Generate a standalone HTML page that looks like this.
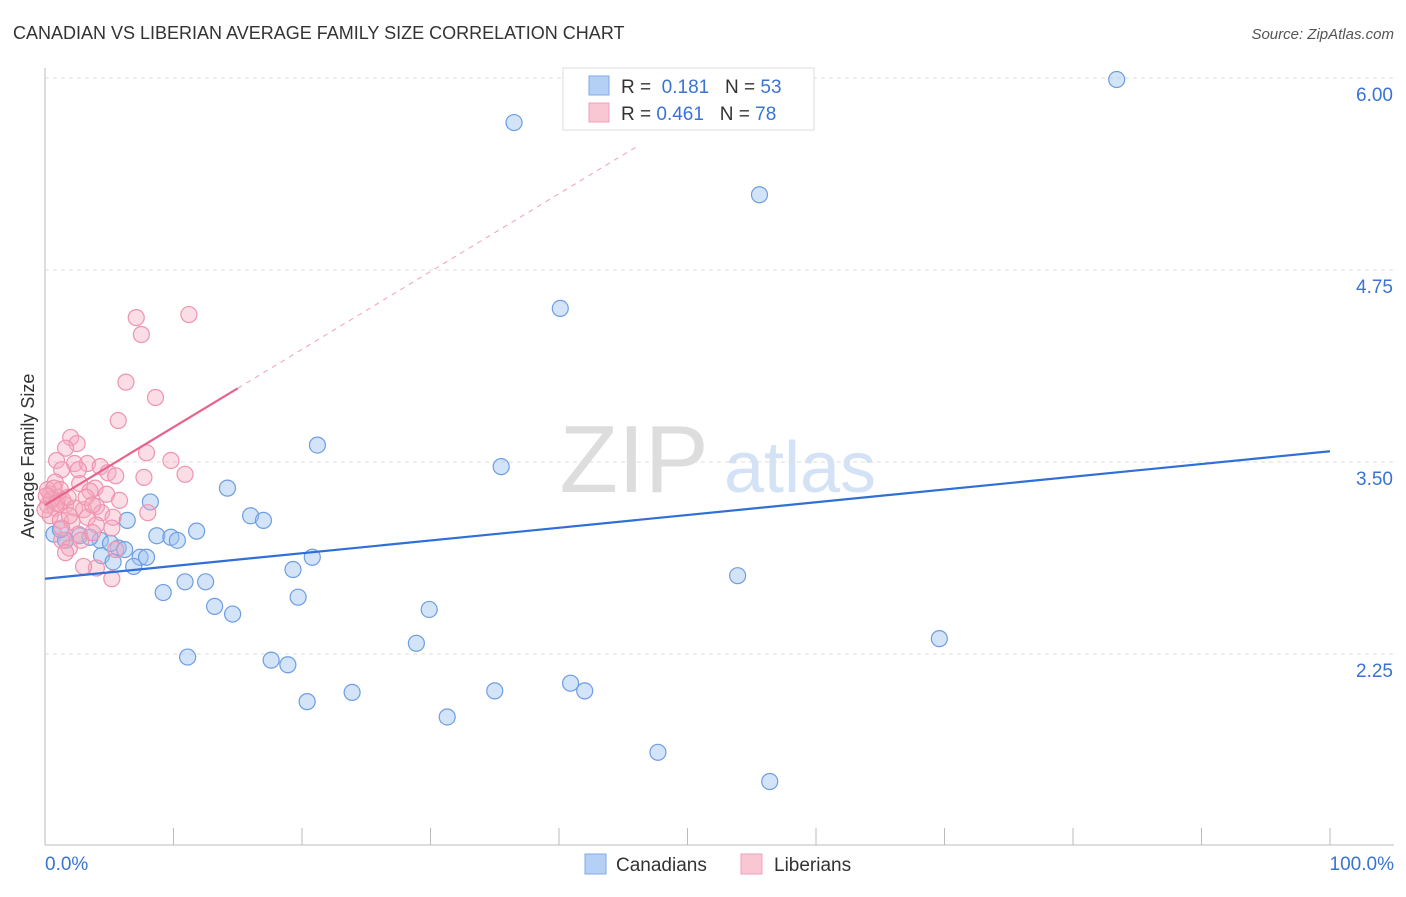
<!DOCTYPE html>
<html><head><meta charset="utf-8"><style>
body{margin:0;background:#fff;font-family:"Liberation Sans",sans-serif;}
svg text{font-family:"Liberation Sans",sans-serif;}
</style></head><body>
<svg id="c" width="1406" height="892">
<text x="13" y="39" font-size="18" fill="#333">CANADIAN VS LIBERIAN AVERAGE FAMILY SIZE CORRELATION CHART</text>
<text x="1394" y="39" font-size="15" fill="#555" font-style="italic" text-anchor="end">Source: ZipAtlas.com</text>
<text x="634" y="492" font-size="96" fill="#ddd" font-family="Liberation Serif" text-anchor="middle">ZIP</text>
<text x="800" y="492" font-size="72" fill="#d3e2f5" text-anchor="middle">atlas</text>
<text x="34" y="456" font-size="18" fill="#333" text-anchor="middle" transform="rotate(-90 34 456)">Average Family Size</text>
<g id="grid"></g><g id="axes"></g><g id="pts"></g><g id="lines"></g>
<g>
<rect x="563" y="68" width="251" height="62" fill="#fff" stroke="#ddd"/>
<rect x="589" y="76" width="20" height="19" fill="#b5d0f5" stroke="#7fa8e6"/>
<rect x="589" y="103" width="20" height="19" fill="#f9c6d4" stroke="#f0a0b8"/>
<text x="621" y="93" font-size="19" fill="#333">R = <tspan fill="#3a73d4">&#160;0.181</tspan>&#160;&#160;&#160;N = <tspan fill="#3a73d4">53</tspan></text>
<text x="621" y="120" font-size="19" fill="#333">R = <tspan fill="#3a73d4">0.461</tspan>&#160;&#160;&#160;N = <tspan fill="#3a73d4">78</tspan></text>
</g>
<g>
<rect x="585" y="854" width="21" height="20" fill="#b5d0f5" stroke="#7fa8e6"/>
<text x="616" y="871" font-size="19" fill="#333">Canadians</text>
<rect x="741" y="854" width="21" height="20" fill="#f9c6d4" stroke="#f0a0b8"/>
<text x="774" y="871" font-size="19" fill="#333">Liberians</text>
</g>
<text x="45" y="870" font-size="19" fill="#3a73d4">0.0%</text>
<text x="1394" y="870" font-size="19" fill="#3a73d4" text-anchor="end">100.0%</text>
</svg>
<script>
const yTicks=[2.25,3.5,4.75,6.0];
const yTickLabels=["2.25","3.50","4.75","6.00"];
const blueX=[83.4,36.5,55.6,40.1,21.2,35.5,14.2,8.2,16.0,17.0,6.4,11.8,8.7,9.8,10.3,0.7,2.7,1.6,4.3,5.7,4.4,7.4,7.9,5.3,20.8,6.9,19.3,10.9,12.5,53.9,9.2,19.7,13.2,14.6,29.9,28.9,69.6,11.1,17.6,18.9,23.9,35.0,40.9,42.0,20.4,31.3,47.7,56.4,1.6,3.5,5.1,6.2,1.2];
const blueY=[5.99,5.71,5.24,4.50,3.61,3.47,3.33,3.24,3.15,3.12,3.12,3.05,3.02,3.01,2.99,3.03,3.02,2.99,2.99,2.94,2.89,2.88,2.88,2.85,2.88,2.82,2.80,2.72,2.72,2.76,2.65,2.62,2.56,2.51,2.54,2.32,2.35,2.23,2.21,2.18,2.00,2.01,2.06,2.01,1.94,1.84,1.61,1.42,2.99,3.01,2.97,2.93,3.06];
const pinkX=[7.1,11.2,7.5,6.3,8.6,5.7,7.9,9.8,10.9,7.7,8.0,5.2,4.0,2.0,2.5,1.6,0.9,2.3,3.3,4.3,4.9,5.5,1.3,0.8,2.7,3.9,3.5,1.2,0.4,0.5,1.0,1.4,0.2,0.8,1.6,2.3,3.0,4.0,4.4,5.3,0.4,1.2,2.1,3.3,4.0,5.2,2.6,1.3,1.9,1.6,2.8,5.5,3.0,0.5,0.2,0.7,0.1,0.9,0,1.8,3.2,3.7,4.8,5.8,2.6,1.9,1.3,3.7];
const pinkY=[4.44,4.46,4.33,4.02,3.92,3.77,3.56,3.51,3.42,3.40,3.17,2.74,2.81,3.66,3.62,3.59,3.51,3.49,3.49,3.47,3.43,3.41,3.45,3.37,3.36,3.33,3.31,3.32,3.29,3.25,3.27,3.25,3.22,3.20,3.22,3.20,3.19,3.21,3.17,3.14,3.15,3.12,3.11,3.14,3.09,3.07,3.03,2.99,2.94,2.91,2.99,2.93,2.82,3.26,3.32,3.33,3.28,3.23,3.19,3.27,3.27,3.22,3.29,3.25,3.45,3.15,3.07,3.04];
const blueTrend=[2.74,3.57];
const pinkTrend=[3.22,3.98];
const NS="http://www.w3.org/2000/svg";
const X=v=>45+v*12.85, Y=v=>462-(v-3.5)*153.6;
function mk(t,a,p){const e=document.createElementNS(NS,t);for(const k in a)e.setAttribute(k,a[k]);document.getElementById(p).appendChild(e);return e;}
yTicks.forEach((t,i)=>{
 const g=mk('line',{x1:45,x2:1394,y1:Y(t),y2:Y(t),stroke:'#ddd','stroke-dasharray':'4,4'},'grid');
 
 
 const l=mk('text',{x:1393,y:Y(t)+23,'font-size':19,fill:'#3a73d4','text-anchor':'end'},'grid');l.textContent=yTickLabels[i];
 
 
});
mk('line',{x1:45,x2:45,y1:68,y2:845,stroke:'#bbb'},'axes');
mk('line',{x1:45,x2:1394,y1:845,y2:845,stroke:'#bbb'},'axes');
for(let i=0;i<=10;i++){const t=mk('line',{x1:X(i*10),x2:X(i*10),y1:828,y2:845,stroke:'#bbb'},'axes');
 
 }
blueX.forEach((x,i)=>{const c=mk('circle',{cx:X(x),cy:Y(blueY[i]),r:8,fill:'rgba(160,196,240,0.45)',stroke:'#6d9de3','stroke-width':1.2},'pts');
 
 });
pinkX.forEach((x,i)=>{const c=mk('circle',{cx:X(x),cy:Y(pinkY[i]),r:8,fill:'rgba(244,170,192,0.4)',stroke:'#ef93ae','stroke-width':1.2},'pts');
 
 });
const bl=mk('line',{x1:X(0),y1:Y(blueTrend[0]),x2:X(100),y2:Y(blueTrend[1]),stroke:'#2f6fd6','stroke-width':2.2},'lines');


const sl=(pinkTrend[1]-pinkTrend[0])/15;
const pd=mk('line',{x1:X(15),y1:Y(pinkTrend[1]),x2:X(46),y2:Y(pinkTrend[0]+sl*46),stroke:'#f0a0b8','stroke-width':1,'stroke-dasharray':'5,5'},'lines');


const pl=mk('line',{x1:X(0),y1:Y(pinkTrend[0]),x2:X(15),y2:Y(pinkTrend[1]),stroke:'#e8638c','stroke-width':2.2},'lines');


</script>
</body></html>
